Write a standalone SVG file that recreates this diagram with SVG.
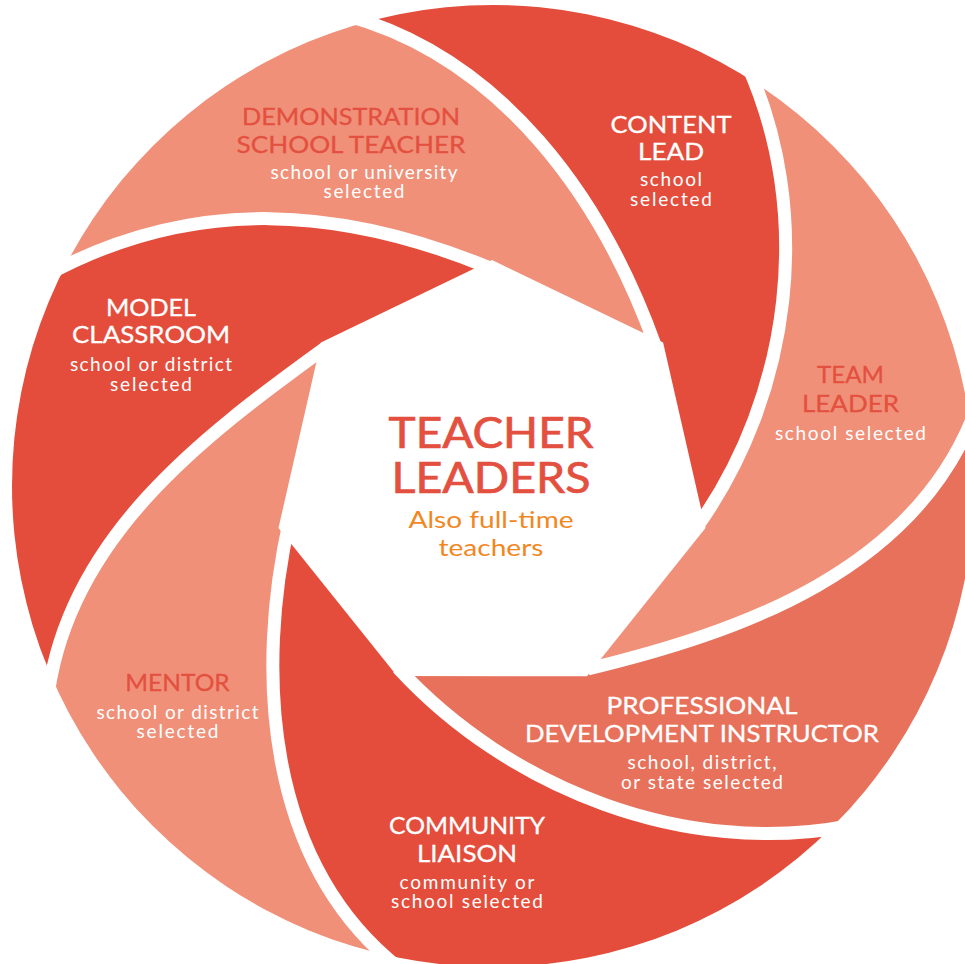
<svg xmlns="http://www.w3.org/2000/svg" width="965" height="964" viewBox="0 0 965 964">
<style>
.dark{fill:#E44D3C}
.light{fill:#F09079}
.mid{fill:#E8715B}
.gap{fill:none;stroke:#FFFFFF;stroke-width:13}
text{font-family:Lato,"Noto Sans",sans-serif;text-anchor:middle}
.t{font-size:23px;stroke-width:0.3px}
.s{font-size:19px}
.w{fill:#FFFFFF}
.t.w{stroke:#FFFFFF}
.r{fill:#E4503F}
.t.r{stroke:#E4503F}
.big{font-size:42px;fill:#E4503F;stroke:#E4503F;stroke-width:0.7px}
.or{font-size:23px;fill:#F2871F}
</style>
<defs>
<clipPath id="disc"><circle cx="493" cy="486" r="481"/></clipPath>
</defs>
<rect width="965" height="964" fill="#FFFFFF"/>
<g id="blades" clip-path="url(#disc)">
<g id="demonstration">
<path class="light" d="M45 276 C195 193.7 345 208 490 268 L655 345 C602.4 198.6 502.3 57.5 345 15 L241.4 -314.7 L-268.6 129 Z"/>
<text class="t r" x="351" y="125" textLength="218" lengthAdjust="spacingAndGlyphs">DEMONSTRATION</text>
<text class="t r" x="351" y="152.5" textLength="229" lengthAdjust="spacingAndGlyphs">SCHOOL TEACHER</text>
<text class="s w" x="364" y="179" textLength="187">school or university</text>
<text class="s w" x="364" y="197.5" textLength="81">selected</text>
</g>
<g id="content-lead">
<path class="dark" d="M345 15 C502.3 57.5 602.4 198.6 655 345 L697 527 C791.6 394.5 814.6 211.6 746 62 L923.1 -234.8 L241.4 -314.7 Z"/>
<text class="t w" x="671" y="132.7" textLength="121" lengthAdjust="spacingAndGlyphs">CONTENT</text>
<text class="t w" x="671" y="160" textLength="66" lengthAdjust="spacingAndGlyphs">LEAD</text>
<text class="s w" x="671" y="186" textLength="62">school</text>
<text class="s w" x="671" y="205.7" textLength="82">selected</text>
</g>
<g id="team-leader">
<path class="light" d="M746 62 C814.6 211.6 791.6 394.5 697 527 L588 669 C740 632.3 916.4 571.1 976 409 L1314.1 355.1 L923.1 -234.8 Z"/>
<text class="t r" x="850.5" y="383.3" textLength="67" lengthAdjust="spacingAndGlyphs">TEAM</text>
<text class="t r" x="850.5" y="411.7" textLength="97" lengthAdjust="spacingAndGlyphs">LEADER</text>
<text class="s w" x="850.5" y="440" textLength="151">school selected</text>
</g>
<g id="professional-development-instructor">
<path class="mid" d="M976 409 C916.4 571.1 740 632.3 588 669 L398 668 C509.8 789.5 685.6 857.2 849 826 L1098.2 1064 L1314.1 355.1 Z"/>
<text class="t w" x="702" y="714" textLength="191" lengthAdjust="spacingAndGlyphs">PROFESSIONAL</text>
<text class="t w" x="702" y="741.5" textLength="354" lengthAdjust="spacingAndGlyphs">DEVELOPMENT INSTRUCTOR</text>
<text class="s w" x="702" y="769" textLength="149">school, district,</text>
<text class="s w" x="702" y="789" textLength="162">or state selected</text>
</g>
<g id="community-liaison">
<path class="dark" d="M849 826 C685.6 857.2 509.8 789.5 398 668 L290 518 C254.9 672.2 265.5 862.3 399 968 L333.2 1305.4 L1098.2 1064 Z"/>
<text class="t w" x="467" y="834" textLength="156" lengthAdjust="spacingAndGlyphs">COMMUNITY</text>
<text class="t w" x="467" y="861.5" textLength="100" lengthAdjust="spacingAndGlyphs">LIAISON</text>
<text class="s w" x="467" y="889" textLength="135">community or</text>
<text class="s w" x="467" y="908" textLength="152">school selected</text>
</g>
<g id="mentor">
<path class="light" d="M399 968 C265.5 862.3 254.9 672.2 290 518 L325 348 C202.5 436.7 64.2 539.7 47 704 L-265.2 856.6 L333.2 1305.4 Z"/>
<text class="t r" x="177.5" y="691" textLength="104.5" lengthAdjust="spacingAndGlyphs">MENTOR</text>
<text class="s w" x="177.5" y="718.5" textLength="162">school or district</text>
<text class="s w" x="177.5" y="738" textLength="82">selected</text>
</g>
<g id="model-classroom">
<path class="dark" d="M47 704 C64.2 539.7 202.5 436.7 325 348 L490 268 C345 208 195 193.7 45 276 L-268.6 129 L-265.2 856.6 Z"/>
<text class="t w" x="151" y="315.7" textLength="90" lengthAdjust="spacingAndGlyphs">MODEL</text>
<text class="t w" x="151" y="343.3" textLength="158" lengthAdjust="spacingAndGlyphs">CLASSROOM</text>
<text class="s w" x="151" y="370.7" textLength="162">school or district</text>
<text class="s w" x="151" y="390.7" textLength="82">selected</text>
</g>
</g>
<g id="gaps">
<path class="gap" d="M45 276 C195 193.7 345 208 490 268"/>
<path class="gap" d="M345 15 C502.3 57.5 602.4 198.6 655 345"/>
<path class="gap" d="M746 62 C814.6 211.6 791.6 394.5 697 527"/>
<path class="gap" d="M976 409 C916.4 571.1 740 632.3 588 669"/>
<path class="gap" d="M849 826 C685.6 857.2 509.8 789.5 398 668"/>
<path class="gap" d="M399 968 C265.5 862.3 254.9 672.2 290 518"/>
<path class="gap" d="M47 704 C64.2 539.7 202.5 436.7 325 348"/>
</g>
<g id="teacher-leaders">
<polygon fill="#FFFFFF" points="492,260 663.1,342.4 705.5,527.9 587,676.3 397,676 278.5,527.9 320.9,342.4"/>
<text class="big" x="491" y="448.3" textLength="205" lengthAdjust="spacingAndGlyphs">TEACHER</text>
<text class="big" x="491" y="492.7" textLength="199" lengthAdjust="spacingAndGlyphs">LEADERS</text>
<text class="or" x="491" y="527.7" textLength="165" lengthAdjust="spacingAndGlyphs">Also full-time</text>
<text class="or" x="491" y="556" textLength="105" lengthAdjust="spacingAndGlyphs">teachers</text>
</g>
</svg>
